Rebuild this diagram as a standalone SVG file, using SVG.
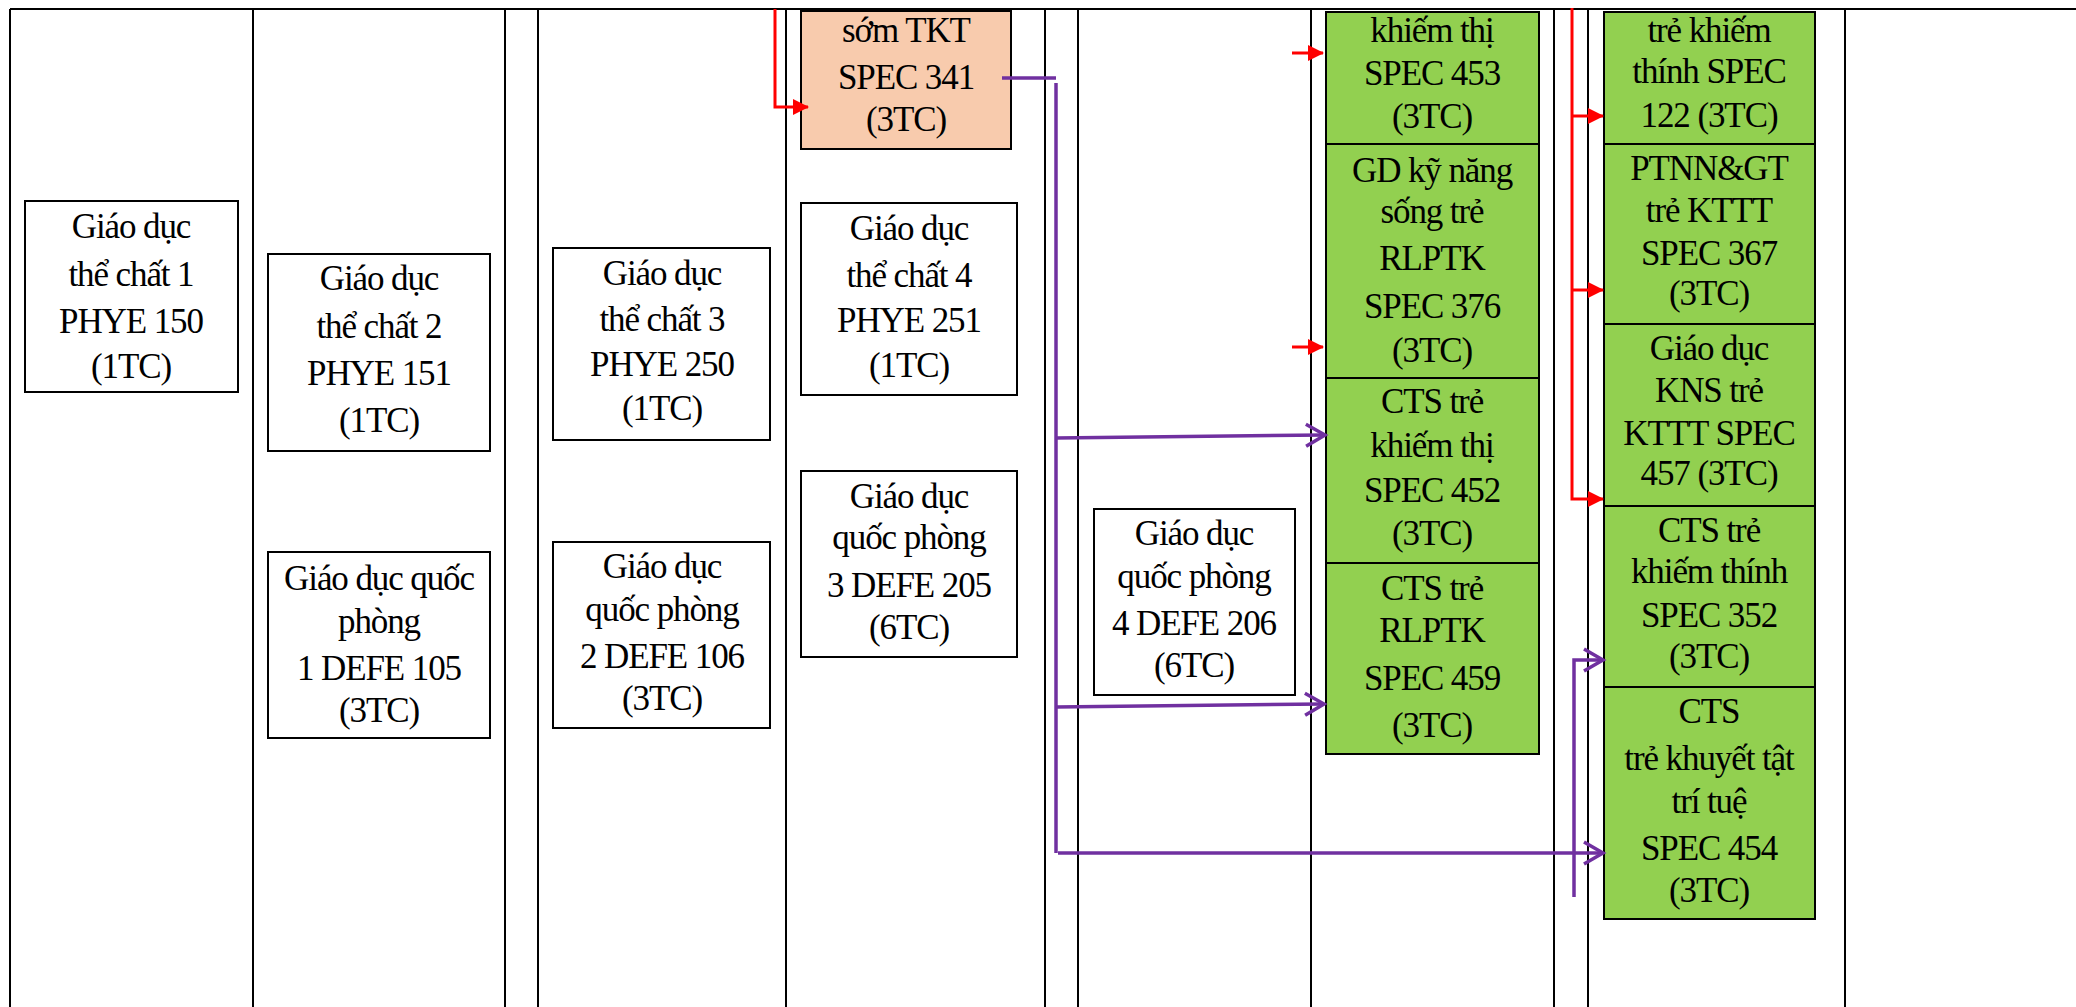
<svg xmlns="http://www.w3.org/2000/svg" width="2076" height="1007" viewBox="0 0 2076 1007">
<style>
.t{font-family:"Liberation Serif","Times New Roman",serif;font-size:35px;letter-spacing:-1.1px;text-anchor:middle;fill:#000}
.grid{stroke:#000;stroke-width:2;fill:none}
.box{fill:#fff;stroke:#000;stroke-width:2}
.green{fill:#92D050;stroke:#000;stroke-width:2}
.orange{fill:#F8CBAD;stroke:#000;stroke-width:2}
.red{stroke:#FF0000;stroke-width:3;fill:none}
.pur{stroke:#7030A0;stroke-width:3.5;fill:none}
</style>
<defs>
<marker id="ra" markerUnits="userSpaceOnUse" markerWidth="16" markerHeight="16" refX="15" refY="8" orient="auto" overflow="visible"><path d="M0,0 L16,8 L0,16 Z" fill="#FF0000"/></marker>
<marker id="pa" markerUnits="userSpaceOnUse" markerWidth="22" markerHeight="24" refX="20" refY="11" orient="auto" overflow="visible"><path d="M1,0 L20,11 L1,22" fill="none" stroke="#7030A0" stroke-width="3.5"/></marker>
</defs>
<rect x="0" y="0" width="2076" height="1007" fill="#fff"/>
<g id="table">
<line class="grid" x1="10" y1="9" x2="2076" y2="9"/>
<line class="grid" x1="10" y1="9" x2="10" y2="1007"/>
<line class="grid" x1="253" y1="9" x2="253" y2="1007"/>
<line class="grid" x1="505" y1="9" x2="505" y2="1007"/>
<line class="grid" x1="538" y1="9" x2="538" y2="1007"/>
<line class="grid" x1="786" y1="9" x2="786" y2="1007"/>
<line class="grid" x1="1045" y1="9" x2="1045" y2="1007"/>
<line class="grid" x1="1078" y1="9" x2="1078" y2="1007"/>
<line class="grid" x1="1311" y1="9" x2="1311" y2="1007"/>
<line class="grid" x1="1554" y1="9" x2="1554" y2="1007"/>
<line class="grid" x1="1588" y1="9" x2="1588" y2="1007"/>
<line class="grid" x1="1845" y1="9" x2="1845" y2="1007"/>
</g>
<g id="phye150"><rect class="box" x="25" y="201" width="213" height="191"/>
<text class="t" x="131" y="238">Giáo dục</text><text class="t" x="131" y="286">thể chất 1</text><text class="t" x="131" y="333">PHYE 150</text><text class="t" x="131" y="378">(1TC)</text></g>
<g id="phye151"><rect class="box" x="268" y="254" width="222" height="197"/>
<text class="t" x="379" y="290">Giáo dục</text><text class="t" x="379" y="338">thể chất 2</text><text class="t" x="379" y="385">PHYE 151</text><text class="t" x="379" y="432">(1TC)</text></g>
<g id="defe105"><rect class="box" x="268" y="552" width="222" height="186"/>
<text class="t" x="379" y="590">Giáo dục quốc</text><text class="t" x="379" y="633">phòng</text><text class="t" x="379" y="680">1 DEFE 105</text><text class="t" x="379" y="722">(3TC)</text></g>
<g id="phye250"><rect class="box" x="553" y="248" width="217" height="192"/>
<text class="t" x="662" y="285">Giáo dục</text><text class="t" x="662" y="331">thể chất 3</text><text class="t" x="662" y="376">PHYE 250</text><text class="t" x="662" y="420">(1TC)</text></g>
<g id="defe106"><rect class="box" x="553" y="542" width="217" height="186"/>
<text class="t" x="662" y="578">Giáo dục</text><text class="t" x="662" y="621">quốc phòng</text><text class="t" x="662" y="668">2 DEFE 106</text><text class="t" x="662" y="710">(3TC)</text></g>
<g id="spec341"><rect class="orange" x="801" y="11" width="210" height="138"/>
<text class="t" x="906" y="42">sớm TKT</text><text class="t" x="906" y="89">SPEC 341</text><text class="t" x="906" y="131">(3TC)</text></g>
<g id="phye251"><rect class="box" x="801" y="203" width="216" height="192"/>
<text class="t" x="909" y="240">Giáo dục</text><text class="t" x="909" y="287">thể chất 4</text><text class="t" x="909" y="332">PHYE 251</text><text class="t" x="909" y="377">(1TC)</text></g>
<g id="defe205"><rect class="box" x="801" y="471" width="216" height="186"/>
<text class="t" x="909" y="508">Giáo dục</text><text class="t" x="909" y="549">quốc phòng</text><text class="t" x="909" y="597">3 DEFE 205</text><text class="t" x="909" y="639">(6TC)</text></g>
<g id="defe206"><rect class="box" x="1094" y="509" width="201" height="186"/>
<text class="t" x="1194" y="545">Giáo dục</text><text class="t" x="1194" y="588">quốc phòng</text><text class="t" x="1194" y="635">4 DEFE 206</text><text class="t" x="1194" y="677">(6TC)</text></g>
<g id="spec453"><rect class="green" x="1326" y="12" width="213" height="132"/>
<text class="t" x="1432" y="42">khiếm thị</text><text class="t" x="1432" y="85">SPEC 453</text><text class="t" x="1432" y="128">(3TC)</text></g>
<g id="spec376"><rect class="green" x="1326" y="144" width="213" height="234"/>
<text class="t" x="1432" y="182">GD kỹ năng</text><text class="t" x="1432" y="223">sống trẻ</text><text class="t" x="1432" y="270">RLPTK</text><text class="t" x="1432" y="318">SPEC 376</text><text class="t" x="1432" y="362">(3TC)</text></g>
<g id="spec452"><rect class="green" x="1326" y="378" width="213" height="185"/>
<text class="t" x="1432" y="413">CTS trẻ</text><text class="t" x="1432" y="457">khiếm thị</text><text class="t" x="1432" y="502">SPEC 452</text><text class="t" x="1432" y="545">(3TC)</text></g>
<g id="spec459"><rect class="green" x="1326" y="563" width="213" height="191"/>
<text class="t" x="1432" y="600">CTS trẻ</text><text class="t" x="1432" y="642">RLPTK</text><text class="t" x="1432" y="690">SPEC 459</text><text class="t" x="1432" y="737">(3TC)</text></g>
<g id="spec122"><rect class="green" x="1604" y="12" width="211" height="132"/>
<text class="t" x="1709" y="42">trẻ khiếm</text><text class="t" x="1709" y="83">thính SPEC</text><text class="t" x="1709" y="127">122 (3TC)</text></g>
<g id="spec367"><rect class="green" x="1604" y="144" width="211" height="180"/>
<text class="t" x="1709" y="180">PTNN&amp;GT</text><text class="t" x="1709" y="222">trẻ KTTT</text><text class="t" x="1709" y="265">SPEC 367</text><text class="t" x="1709" y="305">(3TC)</text></g>
<g id="spec457"><rect class="green" x="1604" y="324" width="211" height="182"/>
<text class="t" x="1709" y="360">Giáo dục</text><text class="t" x="1709" y="402">KNS trẻ</text><text class="t" x="1709" y="445">KTTT SPEC</text><text class="t" x="1709" y="485">457 (3TC)</text></g>
<g id="spec352"><rect class="green" x="1604" y="506" width="211" height="181"/>
<text class="t" x="1709" y="542">CTS trẻ</text><text class="t" x="1709" y="583">khiếm thính</text><text class="t" x="1709" y="627">SPEC 352</text><text class="t" x="1709" y="668">(3TC)</text></g>
<g id="spec454"><rect class="green" x="1604" y="687" width="211" height="232"/>
<text class="t" x="1709" y="723">CTS</text><text class="t" x="1709" y="770">trẻ khuyết tật</text><text class="t" x="1709" y="813">trí tuệ</text><text class="t" x="1709" y="860">SPEC 454</text><text class="t" x="1709" y="902">(3TC)</text></g>
<g id="connectors">
<path class="red" d="M775,9 L775,107 L808,107" marker-end="url(#ra)"/>
<path class="red" d="M1292,53 L1323,53" marker-end="url(#ra)"/>
<path class="red" d="M1292,347 L1323,347" marker-end="url(#ra)"/>
<path class="red" d="M1572,8 L1572,499 L1603,499" marker-end="url(#ra)"/>
<path class="red" d="M1572,116 L1603,116" marker-end="url(#ra)"/>
<path class="red" d="M1572,290 L1603,290" marker-end="url(#ra)"/>
<path class="pur" d="M1002,78 L1056,78"/>
<path class="pur" d="M1056,83 L1056,853"/>
<path class="pur" d="M1056,438 L1325,435" marker-end="url(#pa)"/>
<path class="pur" d="M1056,707 L1324,704" marker-end="url(#pa)"/>
<path class="pur" d="M1058,853 L1603,853" marker-end="url(#pa)"/>
<path class="pur" d="M1574,897 L1574,660 L1603,660" marker-end="url(#pa)"/>
</g>
</svg>
